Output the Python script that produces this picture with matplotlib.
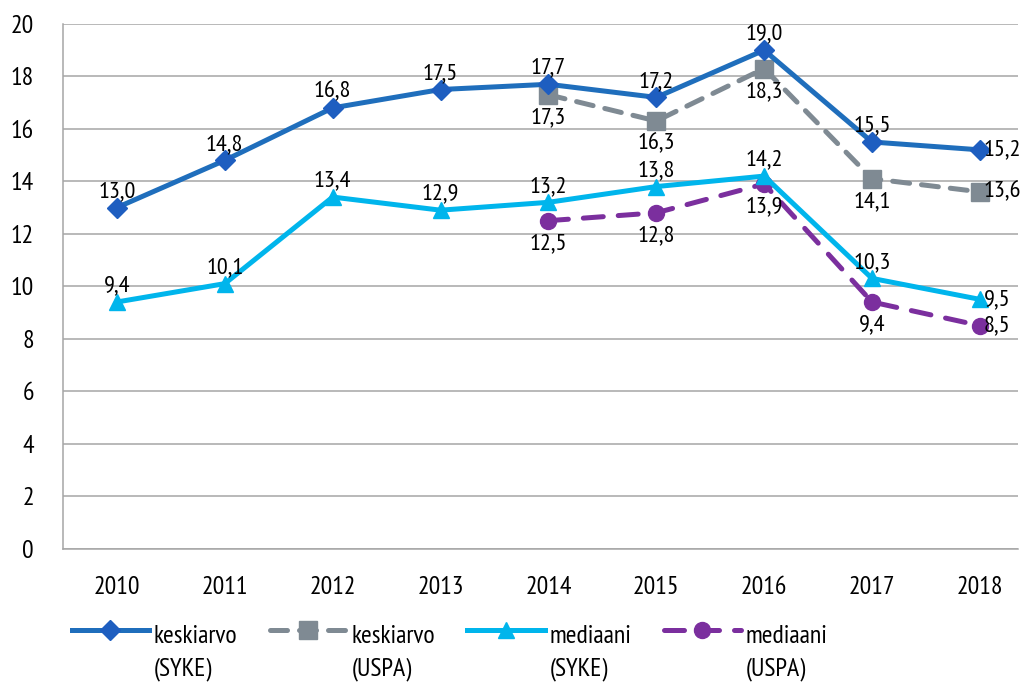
import matplotlib.pyplot as plt
import matplotlib.transforms as mtransforms
from matplotlib.legend_handler import HandlerLine2D
import numpy as np

years = ['2010', '2011', '2012', '2013', '2014', '2015', '2016', '2017', '2018']
mean_syke = [13.0, 14.8, 16.8, 17.5, 17.7, 17.2, 19.0, 15.5, 15.2]
mean_uspa = [np.nan, np.nan, np.nan, np.nan, 17.3, 16.3, 18.3, 14.1, 13.6]
med_syke = [9.4, 10.1, 13.4, 12.9, 13.2, 13.8, 14.2, 10.3, 9.5]
med_uspa = [np.nan, np.nan, np.nan, np.nan, 12.5, 12.8, 13.9, 9.4, 8.5]

plt.rcParams['font.family'] = ['PT Sans Narrow', 'Liberation Sans', 'DejaVu Sans']
fs = 18.5      # ticks and legend
fs_lab = 17.5  # data labels

fig = plt.figure(figsize=(10.21, 6.84), dpi=100)
ax = fig.add_axes([0.0617, 0.198, 0.935, 0.767])
x = np.arange(len(years))

ax.plot(x, mean_syke, color='#1F6EBC', lw=3.6, marker='D', ms=10,
        mfc='#1E5EC0', mec='#1E5EC0', zorder=5, label='keskiarvo\n(SYKE)')
ax.plot(x, mean_uspa, color='#7F8A93', lw=3.6, ls=(0, (3.4, 2.4)),
        dash_capstyle='round', marker='s', ms=12.5, zorder=4,
        label='keskiarvo\n(USPA)')
ax.plot(x, med_syke, color='#00B5EC', lw=3.6, marker='^', ms=11, zorder=3,
        label='mediaani\n(SYKE)')
ax.plot(x, med_uspa, color='#7B2F9E', lw=3.6, ls=(0, (4, 3)),
        dash_capstyle='round', marker='o', ms=11.5, zorder=2,
        label='mediaani\n(USPA)')


def fmt(v):
    return ('%.1f' % v).replace('.', ',')


def label_series(vals, dy):
    for i, v in enumerate(vals):
        if np.isnan(v):
            continue
        if i == len(vals) - 1:
            ax.annotate(fmt(v), (i, v), xytext=(3, 0), textcoords='offset points',
                        ha='left', va='center', fontsize=fs_lab, zorder=10)
        else:
            ax.annotate(fmt(v), (i, v), xytext=(0, dy), textcoords='offset points',
                        ha='center', va='bottom' if dy > 0 else 'top',
                        fontsize=fs_lab, zorder=10)


label_series(mean_syke, 4)
label_series(mean_uspa, -9)
label_series(med_syke, 4)
label_series(med_uspa, -9)

ax.set_xlim(-0.5, 8.35)
ax.set_ylim(0, 20)
ax.set_yticks(range(0, 21, 2))
ax.set_xticks(x)
ax.set_xticklabels(years)
ax.grid(axis='y', color='#A6A6A6', lw=1.1)
ax.set_axisbelow(True)
for s in ['top', 'right']:
    ax.spines[s].set_visible(False)
for s in ['left', 'bottom']:
    ax.spines[s].set_color('#A6A6A6')
    ax.spines[s].set_linewidth(1.1)
ax.tick_params(length=0, labelsize=fs)
ax.tick_params(axis='y', pad=21)
ax.tick_params(axis='x', pad=20)


class RaisedHandler(HandlerLine2D):
    # put the legend line level with the first text line
    def create_artists(self, legend, orig_handle, xdescent, ydescent, width,
                       height, fontsize, trans):
        arts = super().create_artists(legend, orig_handle, xdescent, ydescent,
                                      width, height, fontsize, trans)
        shift = mtransforms.Affine2D().translate(0, 16)
        for a in arts:
            a.set_transform(shift + trans)
        return arts


handles, labels = ax.get_legend_handles_labels()
leg = fig.legend(handles, labels, loc='lower left', bbox_to_anchor=(0.06, -0.01),
                 ncol=4, frameon=False, fontsize=fs, handlelength=3.0,
                 handletextpad=0.2, columnspacing=1.25, borderaxespad=0,
                 handler_map={h: RaisedHandler() for h in handles})
for t in leg.get_texts():
    t.set_linespacing(1.5)

fig.savefig('out.png', dpi=100)
